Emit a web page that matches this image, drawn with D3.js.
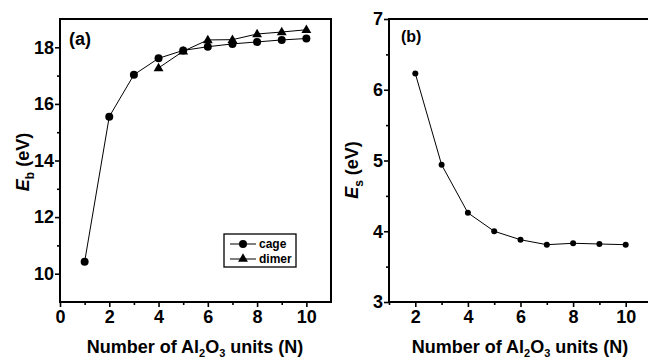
<!DOCTYPE html>
<html>
<head>
<meta charset="utf-8">
<script src="https://cdn.jsdelivr.net/npm/d3@7"></script>
<style>
  body { margin: 0; background: #fff; }
  svg { display: block; font-family: "Liberation Sans", Arial, sans-serif; font-weight: bold; }
</style>
</head>
<body>
<svg id="chart" width="648" height="360"></svg>
<script>
// panel (a): binding energy
const nCage = [1, 2, 3, 4, 5, 6, 7, 8, 9, 10]
const ebCage = [10.42, 15.55, 17.03, 17.61, 17.89, 18.02, 18.12, 18.19, 18.26, 18.31]
const nDimer = [4, 5, 6, 7, 8, 9, 10]
const ebDimer = [17.27, 17.86, 18.26, 18.27, 18.47, 18.54, 18.62]
const legendLabels = ["cage", "dimer"]

// panel (b): surface energy
const nEs = [2, 3, 4, 5, 6, 7, 8, 9, 10]
const es = [6.23, 4.94, 4.26, 4.00, 3.88, 3.81, 3.83, 3.82, 3.81]

const xTicksA = [0, 2, 4, 6, 8, 10]
const xMinorA = [1, 3, 5, 7, 9]
const yTicksA = [10, 12, 14, 16, 18]
const yMinorA = [11, 13, 15, 17]
const xTicksB = [2, 4, 6, 8, 10]
const xMinorB = [1, 3, 5, 7, 9]
const yTicksB = [3, 4, 5, 6, 7]
const yMinorB = [3.5, 4.5, 5.5, 6.5]

const svg = d3.select("#chart")
const fmt = d3.format("d")

function frame(g, x, y, xt, xm, yt, ym, sub, titleX, titleY){
    const [x0, x1] = x.range()
    const [y0, y1] = y.range()

    // ticks
    g.append("g").attr("transform", `translate(0,${y0})`)
      .call(d3.axisBottom(x).tickValues(xt).tickFormat(fmt).tickSize(5).tickSizeOuter(0).tickPadding(3))
    g.append("g").attr("transform", `translate(0,${y0})`)
      .call(d3.axisBottom(x).tickValues(xm).tickSize(3).tickSizeOuter(0).tickFormat(""))
    g.append("g").attr("transform", `translate(${x0},0)`)
      .call(d3.axisLeft(y).tickValues(yt).tickFormat(fmt).tickSize(5).tickSizeOuter(0).tickPadding(1))
    g.append("g").attr("transform", `translate(${x0},0)`)
      .call(d3.axisLeft(y).tickValues(ym).tickSize(3).tickSizeOuter(0).tickFormat(""))

    g.selectAll(".domain").remove()
    g.selectAll(".tick line").attr("stroke", "#000").attr("stroke-width", 1.6)
    g.selectAll(".tick text").attr("font-size", 18).attr("font-weight", "bold")
      .attr("font-family", "Liberation Sans, Arial, sans-serif").attr("fill", "#000")

    // box
    g.append("rect")
      .attr("x", x0).attr("y", y1)
      .attr("width", x1 - x0).attr("height", y0 - y1)
      .attr("fill", "none").attr("stroke", "#000").attr("stroke-width", 2)

    // x title
    const xt2 = g.append("text")
      .attr("x", titleX).attr("y", 353)
      .attr("text-anchor", "middle").attr("font-size", 18)
    xt2.append("tspan").text("Number of Al")
    xt2.append("tspan").attr("font-size", 11).attr("dy", 4).text("2")
    xt2.append("tspan").attr("dy", -4).text("O")
    xt2.append("tspan").attr("font-size", 11).attr("dy", 4).text("3")
    xt2.append("tspan").attr("dy", -4).text(" units (N)")

    // y title
    const yt2 = g.append("text")
      .attr("transform", `translate(${titleY[0]},${titleY[1]}) rotate(-90)`)
      .attr("text-anchor", "middle").attr("font-size", 18)
    yt2.append("tspan").attr("font-style", "italic").text("E")
    yt2.append("tspan").attr("font-size", 12).attr("dy", 5).text(sub)
    yt2.append("tspan").attr("dy", -5).text(" (eV)")
}

// ---------- panel (a)
const xA = d3.scaleLinear().domain([0, 11]).range([60, 331])
const yA = d3.scaleLinear().domain([9, 19]).range([302, 19])
const gA = svg.append("g")
frame(gA, xA, yA, xTicksA, xMinorA, yTicksA, yMinorA, "b", 195, [29, 162])

gA.append("text").attr("x", 69).attr("y", 45).attr("font-size", 18).text("(a)")

const line = (x, y) => d3.line().x(d => x(d[0])).y(d => y(d[1]))
const cageData = d3.zip(nCage, ebCage)
const dimerData = d3.zip(nDimer, ebDimer)

gA.append("path").attr("d", line(xA, yA)(cageData))
  .attr("fill", "none").attr("stroke", "#000").attr("stroke-width", 1)
gA.append("path").attr("d", line(xA, yA)(dimerData))
  .attr("fill", "none").attr("stroke", "#000").attr("stroke-width", 1)

gA.selectAll(".cage").data(cageData).enter().append("circle")
  .attr("cx", d => xA(d[0])).attr("cy", d => yA(d[1])).attr("r", 4).attr("fill", "#000")

const tri = d3.symbol().type(d3.symbolTriangle).size(42)
gA.selectAll(".dimer").data(dimerData).enter().append("path")
  .attr("d", tri).attr("transform", d => `translate(${xA(d[0])},${yA(d[1]) + 0.5})`).attr("fill", "#000")

// legend
const lg = gA.append("g").attr("transform", "translate(224,234)")
lg.append("rect").attr("width", 72).attr("height", 33)
  .attr("fill", "#fff").attr("stroke", "#000").attr("stroke-width", 1.3)
legendLabels.forEach((lab, i) => {
    const cy = 10 + i * 15
    lg.append("line").attr("x1", 6).attr("x2", 32).attr("y1", cy).attr("y2", cy)
      .attr("stroke", "#000").attr("stroke-width", 1)
    if(i === 0){
        lg.append("circle").attr("cx", 19).attr("cy", cy).attr("r", 4).attr("fill", "#000")
    } else {
        lg.append("path").attr("d", tri).attr("transform", `translate(19,${cy})`).attr("fill", "#000")
    }
    lg.append("text").attr("x", 35).attr("y", cy + 4).attr("font-size", 12).text(lab)
})

// ---------- panel (b)
const xB = d3.scaleLinear().domain([1, 11]).range([389, 652])
const yB = d3.scaleLinear().domain([3, 7]).range([302, 19])
const gB = svg.append("g")
frame(gB, xB, yB, xTicksB, xMinorB, yTicksB, yMinorB, "s", 520, [358, 170])

gB.append("text").attr("x", 401).attr("y", 42).attr("font-size", 16).text("(b)")

const esData = d3.zip(nEs, es)
gB.append("path").attr("d", line(xB, yB)(esData))
  .attr("fill", "none").attr("stroke", "#000").attr("stroke-width", 1)
gB.selectAll(".es").data(esData).enter().append("circle")
  .attr("cx", d => xB(d[0])).attr("cy", d => yB(d[1])).attr("r", 3).attr("fill", "#000")
</script>
</body>
</html>
